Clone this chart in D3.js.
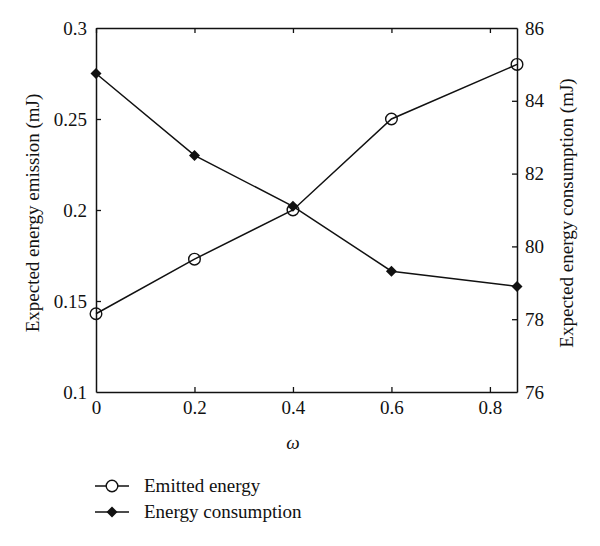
<!DOCTYPE html>
<html><head><meta charset="utf-8">
<script src="https://cdn.jsdelivr.net/npm/d3@7"></script>
<style>body{margin:0;background:#fff;} text{font-family:"Liberation Serif","DejaVu Serif",serif;fill:#111;}</style>
</head><body>
<svg id="c" width="600" height="546"></svg>
<script>
const omega = [0, 0.2, 0.4, 0.6, 0.855];
const emitted = [0.143, 0.173, 0.2, 0.25, 0.28];
const consumption = [84.75, 82.5, 81.1, 79.32, 78.9];
const xTicks = [0, 0.2, 0.4, 0.6, 0.8];
const yLeftTicks = [0.1, 0.15, 0.2, 0.25, 0.3];
const yRightTicks = [76, 78, 80, 82, 84, 86];
const seriesNames = ["Emitted energy", "Energy consumption"];

const svg = d3.select("#c");
const L = 96, R = 517, T = 28, B = 392;
const x = d3.scaleLinear().domain([0, 0.855]).range([L, R]);
const yl = d3.scaleLinear().domain([0.1, 0.3]).range([B, T]);
const yr = d3.scaleLinear().domain([76, 86]).range([B, T]);
const fs = 19, tk = 5;

const fmt = d => String(d);
const gB = svg.append("g").attr("transform", `translate(0,${B})`)
  .call(d3.axisBottom(x).tickValues(xTicks).tickFormat(fmt).tickSizeInner(-tk).tickSizeOuter(0).tickPadding(12));
const gT = svg.append("g").attr("transform", `translate(0,${T})`)
  .call(d3.axisTop(x).tickValues(xTicks).tickFormat("").tickSizeInner(-tk).tickSizeOuter(0));
const gL = svg.append("g").attr("transform", `translate(${L},0)`)
  .call(d3.axisLeft(yl).tickValues(yLeftTicks).tickFormat(fmt).tickSizeInner(-tk).tickSizeOuter(0).tickPadding(9));
const gR = svg.append("g").attr("transform", `translate(${R},0)`)
  .call(d3.axisRight(yr).tickValues(yRightTicks).tickFormat(fmt).tickSizeInner(-tk).tickSizeOuter(0).tickPadding(8));

[gB, gT, gL, gR].forEach(g => {
  g.selectAll("path.domain").attr("stroke", "#111").attr("stroke-width", 1.5);
  g.selectAll(".tick line").attr("stroke", "#111").attr("stroke-width", 1.3);
  g.selectAll("text").attr("font-size", fs).attr("font-family", "Liberation Serif").attr("fill", "#111");
});
gB.selectAll(".tick text").attr("dy", "0.55em");
gB.selectAll(".tick").filter(d => d === 0).select("line").remove();
gL.selectAll(".tick").filter(d => d === 0.1 || d === 0.3).select("line").remove();
gR.selectAll(".tick").filter(d => d === 76 || d === 86).select("line").remove();

svg.append("text").attr("transform", `translate(39,${(T+B)/2 + 3}) rotate(-90)`)
  .attr("text-anchor", "middle").attr("font-size", fs).text("Expected energy emission (mJ)");
svg.append("text").attr("transform", `translate(573,${(T+B)/2 + 3}) rotate(-90)`)
  .attr("text-anchor", "middle").attr("font-size", fs).text("Expected energy consumption (mJ)");
svg.append("text").attr("x", 293).attr("y", 449).attr("text-anchor", "middle")
  .attr("font-size", fs).attr("font-style", "italic").text("ω");

const pts1 = omega.map((w, i) => [x(w), yl(emitted[i])]);
const pts2 = omega.map((w, i) => [x(w), yr(consumption[i])]);
const line = d3.line();
svg.append("path").attr("d", line(pts1)).attr("fill", "none").attr("stroke", "#111").attr("stroke-width", 1.5);
svg.append("path").attr("d", line(pts2)).attr("fill", "none").attr("stroke", "#111").attr("stroke-width", 1.5);

const diamond = (cx, cy, s) => `M${cx},${cy-s}L${cx+s},${cy}L${cx},${cy+s}L${cx-s},${cy}Z`;
svg.selectAll("circle.e").data(pts1).join("circle").attr("class", "e")
  .attr("cx", d => d[0]).attr("cy", d => d[1]).attr("r", 5.8)
  .attr("fill", "none").attr("stroke", "#111").attr("stroke-width", 1.4);
svg.selectAll("path.c").data(pts2).join("path").attr("class", "c")
  .attr("d", d => diamond(d[0], d[1], 5.5)).attr("fill", "#111");

const ly = [486, 512];
seriesNames.forEach((name, i) => {
  const y = ly[i];
  svg.append("line").attr("x1", 95).attr("x2", 129).attr("y1", y).attr("y2", y).attr("stroke", "#111").attr("stroke-width", 1.5);
  if (i === 0) svg.append("circle").attr("cx", 112).attr("cy", y).attr("r", 5.8).attr("fill", "#fff").attr("stroke", "#111").attr("stroke-width", 1.4);
  else svg.append("path").attr("d", diamond(112, y, 5.5)).attr("fill", "#111");
  svg.append("text").attr("x", 144).attr("y", y).attr("dy", "0.33em").attr("font-size", fs).text(name);
});
</script>
</body></html>
